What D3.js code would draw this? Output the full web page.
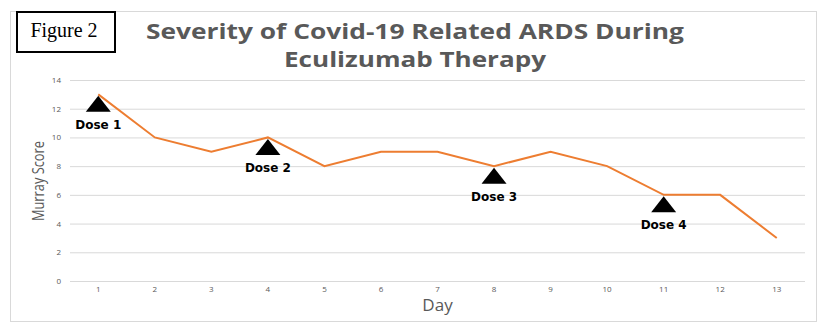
<!DOCTYPE html>
<html><head><meta charset="utf-8">
<script src="https://cdn.jsdelivr.net/npm/d3@7"></script>
<style>body{margin:0;background:#fff}svg{display:block}</style>
</head><body>
<svg id="c" width="830" height="330"></svg>
<script>
const days = [1,2,3,4,5,6,7,8,9,10,11,12,13];
const murray = [13,10,9,10,8,9,9,8,9,8,6,6,3];
const yTicks = [0,2,4,6,8,10,12,14];
const doseDays = [1,4,8,11];
const doseLabels = ["Dose 1","Dose 2","Dose 3","Dose 4"];
const titleLines = ["Severity of Covid-19 Related ARDS During","Eculizumab Therapy"];

const svg = d3.select("#c");
// outer chart border
svg.append("rect").attr("x",10.5).attr("y",11.5).attr("width",806).attr("height",310)
  .attr("fill","#fff").attr("stroke","#d9d9d9").attr("stroke-width",1);

const pL=70, pR=805, pT=80, pB=281;
const x = d3.scaleBand().domain(days).range([pL,pR]);
const y = d3.scaleLinear().domain([0,14]).range([pB,pT]);

// gridlines
svg.append("g").selectAll("line").data(yTicks).join("line")
  .attr("x1",pL).attr("x2",pR).attr("y1",d=>y(d)+0.5).attr("y2",d=>y(d)+0.5)
  .attr("stroke","#d9d9d9").attr("stroke-width",1);

// y axis labels
const yAxis = svg.append("g").attr("transform",`translate(${pL},0)`)
  .call(d3.axisLeft(y).tickValues(yTicks).tickSize(0).tickPadding(9));
yAxis.select(".domain").remove();
yAxis.selectAll("text").attr("font-family","Open Sans").attr("font-size",8).attr("fill","#595959");

// x axis labels
const xAxis = svg.append("g").attr("transform",`translate(0,${pB})`)
  .call(d3.axisBottom(x).tickSize(0).tickPadding(5));
xAxis.select(".domain").remove();
xAxis.selectAll("text").attr("font-family","Open Sans").attr("font-size",8).attr("fill","#595959");

// line
const cx = d => x(d)+x.bandwidth()/2;
svg.append("path").datum(days.map((d,i)=>[d,murray[i]]))
  .attr("fill","none").attr("stroke","#ED7D31").attr("stroke-width",2)
  .attr("d",d3.line().x(d=>cx(d[0])).y(d=>y(d[1])));

// dose markers
const doseG = svg.append("g").selectAll("g").data(doseDays).join("g")
  .attr("transform",d=>`translate(${cx(d)},${y(murray[days.indexOf(d)])})`);
doseG.append("path").attr("d","M0,1.5 L12.5,17.5 L-12.5,17.5 Z").attr("fill","#000");
doseG.append("text").attr("y",34.5).attr("text-anchor","middle")
  .attr("font-family","DejaVu Sans").attr("font-weight","bold").attr("font-size",12)
  .attr("fill","#000").text((d,i)=>doseLabels[i]);

// axis titles
svg.append("text").attr("transform","translate(44,181) rotate(-90)").attr("text-anchor","middle")
  .attr("font-family","Open Sans").attr("font-size",17).attr("fill","#595959")
  .attr("textLength",80).attr("lengthAdjust","spacingAndGlyphs").text("Murray Score");
svg.append("text").attr("x",(pL+pR)/2).attr("y",311).attr("text-anchor","middle")
  .attr("font-family","Open Sans").attr("font-size",17).attr("fill","#595959").text("Day");

// title
const t = svg.append("g");
const titleWidths = [538, 262];
titleLines.forEach((s,i)=>{
  t.append("text").attr("x",415).attr("y",39+i*28).attr("text-anchor","middle")
   .attr("font-family","Open Sans").attr("font-weight","bold").attr("font-size",22)
   .attr("textLength",titleWidths[i]).attr("lengthAdjust","spacingAndGlyphs")
   .attr("fill","#595959").text(s);
});

// figure label box
svg.append("rect").attr("x",17).attr("y",12).attr("width",98).attr("height",40)
  .attr("fill","#fff").attr("stroke","#000").attr("stroke-width",2);
svg.append("text").attr("x",64).attr("y",37).attr("text-anchor","middle")
  .attr("font-family","Liberation Serif").attr("font-size",20).attr("fill","#000").text("Figure 2");
</script>
</body></html>
